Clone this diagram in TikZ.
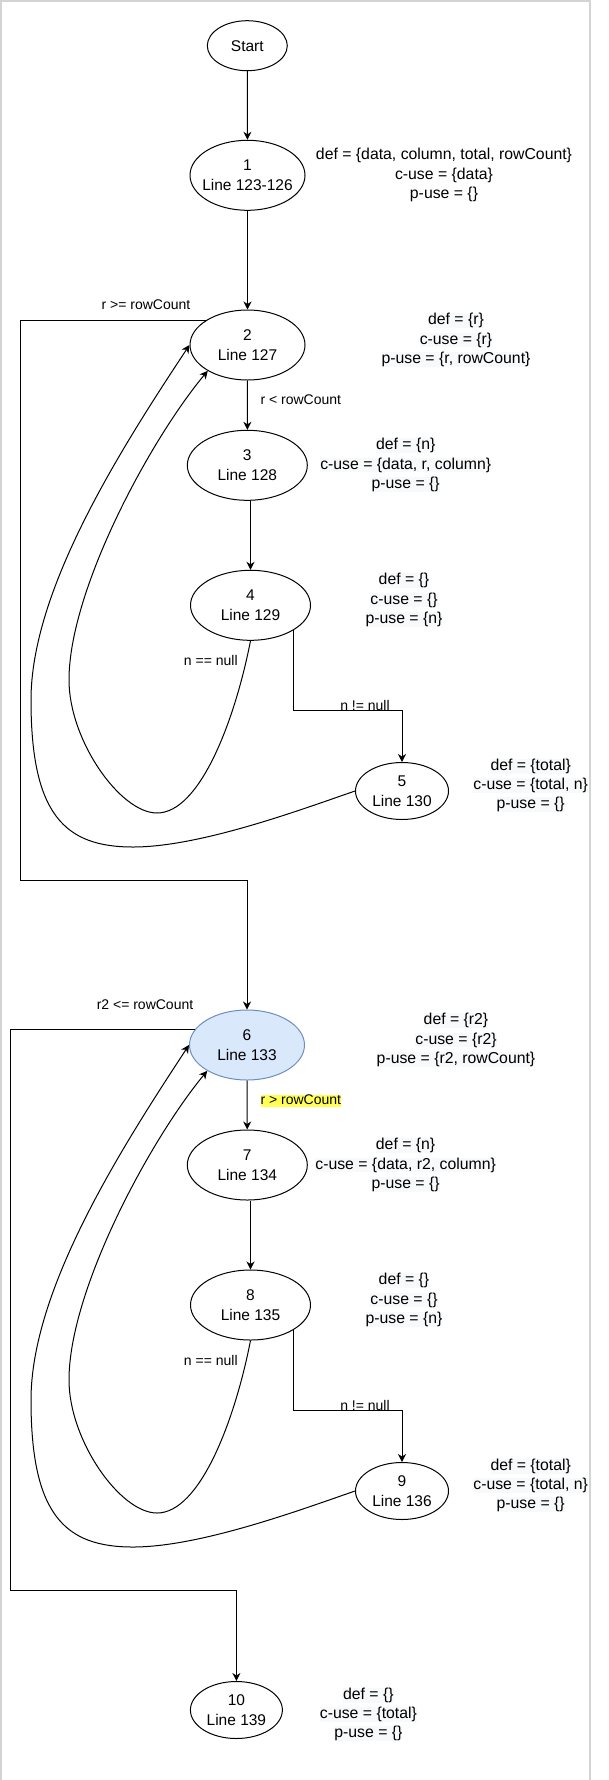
\documentclass[tikz,border=0pt]{standalone}
\usepackage{fontspec}
\setmainfont{Liberation Sans}
\usetikzlibrary{shapes.geometric,arrows.meta}
\definecolor{softbg}{HTML}{F8F9FA}
\definecolor{nodeblue}{HTML}{DAE8FC}
\definecolor{edgeblue}{HTML}{6C8EBF}
\definecolor{marker}{HTML}{FFFF55}
\definecolor{frame}{HTML}{D4D4D4}
\newcommand{\bgl}[1]{{\setlength{\fboxsep}{0pt}\colorbox{softbg}{#1}}}

\begin{document}
\begin{tikzpicture}[x=1pt,y=-1pt,line width=1pt,
		blk/.style={ellipse,draw,inner sep=0pt,minimum width=115,minimum height=70},
		nlab/.style={align=center,font=\fontsize{15.5}{19.5}\selectfont},
		info/.style={align=center,inner sep=0pt,font=\fontsize{15.8}{19.3}\selectfont},
		cond/.style={inner sep=0pt,font=\fontsize{14}{16}\selectfont},
		arr/.style={-{Stealth[length=8pt,width=8pt,inset=2.5pt]}}]
		\useasboundingbox (0,0) rectangle (609,1780);
		\draw[frame,line width=1.5pt] (0.75,1780) -- (0.75,0.75) -- (590,0.75) -- (590,1780);

		\node[blk,minimum width=80,minimum height=50,label={[nlab]center:Start}] (s) at (247.3,45.7) {};
		\node[blk,label={[nlab]center:1\\Line 123-126}] (n1) at (247.5,175.3) {};
		\node[blk,label={[nlab]center:2\\Line 127}] (n2) at (247.5,345) {};
		\node[blk,minimum width=120,label={[nlab]center:3\\Line 128}] (n3) at (247.3,465.3) {};
		\node[blk,minimum width=120,label={[nlab]center:4\\Line 129}] (n4) at (250.5,605.3) {};
		\node[blk,minimum width=93,minimum height=57,label={[nlab]center:5\\Line 130}] (n5) at (402,791) {};
		\node[blk,fill=nodeblue,draw=edgeblue,label={[nlab]center:6\\Line 133}] (n6) at (247,1045) {};
		\node[blk,minimum width=120,label={[nlab]center:7\\Line 134}] (n7) at (247.3,1165) {};
		\node[blk,minimum width=120,label={[nlab]center:8\\Line 135}] (n8) at (250.5,1305) {};
		\node[blk,minimum width=93,minimum height=57,label={[nlab]center:9\\Line 136}] (n9) at (402,1491) {};
		\node[blk,minimum width=92,minimum height=57,label={[nlab]center:10\\Line 139}] (n10) at (236.4,1710) {};

		\node[info] (t1) at (444,175) {def = \{data, column, total, rowCount\}\\c-use = \{data\}\\p-use = \{\}};
		\node[info] (t2) at (456,340) {\bgl{def = \{r\}}\\\bgl{c-use = \{r\}}\\\bgl{p-use = \{r, rowCount\}}};
		\node[info] (t3) at (405.7,465) {\bgl{def = \{n\}}\\\bgl{c-use = \{data, r, column\}}\\\bgl{p-use = \{\}}};
		\node[info] (t4) at (404,600) {\bgl{def = \{\}}\\\bgl{c-use = \{\}}\\\bgl{p-use = \{n\}}};
		\node[info] (t5) at (530.7,785.5) {\bgl{def = \{total\}}\\\bgl{c-use = \{total, n\}}\\\bgl{p-use = \{\}}};
		\node[info] (t6) at (456,1040) {\bgl{def = \{r2\}}\\\bgl{c-use = \{r2\}}\\\bgl{p-use = \{r2, rowCount\}}};
		\node[info] (t7) at (405.6,1165) {\bgl{def = \{n\}}\\\bgl{c-use = \{data, r2, column\}}\\\bgl{p-use = \{\}}};
		\node[info] (t8) at (404,1300) {\bgl{def = \{\}}\\\bgl{c-use = \{\}}\\\bgl{p-use = \{n\}}};
		\node[info] (t9) at (530.7,1485.5) {\bgl{def = \{total\}}\\\bgl{c-use = \{total, n\}}\\\bgl{p-use = \{\}}};
		\node[info] (t10) at (368.4,1714.5) {\bgl{def = \{\}}\\\bgl{c-use = \{total\}}\\\bgl{p-use = \{\}}};

		\node[cond] (c1) at (146,305) {r >= rowCount};
		\node[cond,anchor=west] (c2) at (260,400) {r < rowCount};
		\node[cond] (c3) at (210.8,660) {n == null};
		\node[cond,anchor=base] (c4) at (365,710) {n != null};
		\node[cond] (c5) at (145,1005) {r2 <= rowCount};
		\node[cond,anchor=west,fill=marker,text height=10pt,text depth=2.7pt] (c6) at (260,1101) {r > rowCount};
		\node[cond] (c7) at (210.8,1360) {n == null};
		\node[cond,anchor=base] (c8) at (365,1410) {n != null};

		\coordinate (k2) at (20,880);
		\coordinate (k4) at (402,710);
		\coordinate (k6) at (10.5,1590);
		\coordinate (k8) at (402,1410);

		\draw[arr] (s) -- (n1);
		\draw[arr] (n1) -- (n2);
		\draw[arr] (n2) -- (n3);
		\draw[arr] (n4 |- n3.south) -- (n4);
		\draw[arr] (n4.-30) |- (k4) -- (n5);
		\draw[arr] (n4.south) .. controls (235,720) and (200,813) .. (157,813)
			.. controls (120,813) and (69,740) .. (69,680)
			.. controls (69,590) and (150,440) .. (n2.213);
		\draw[arr] (n5.west) .. controls (300,810) and (200,847) .. (133,847)
			.. controls (65,847) and (31,815) .. (31,700)
			.. controls (31,590) and (120,450) .. (n2.west);
		\draw[arr] (n2.149.5) -| (k2) -| (n6);

		\draw[arr] (n6) -- (n7);
		\draw[arr] (n8 |- n7.south) -- (n8);
		\draw[arr] (n8.-30) |- (k8) -- (n9);
		\draw[arr] (n8.south) .. controls (235,1420) and (200,1513) .. (157,1513)
			.. controls (120,1513) and (69,1440) .. (69,1380)
			.. controls (69,1290) and (150,1140) .. (n6.213);
		\draw[arr] (n9.west) .. controls (300,1510) and (200,1547) .. (133,1547)
			.. controls (65,1547) and (31,1515) .. (31,1400)
			.. controls (31,1290) and (120,1150) .. (n6.west);
		\draw[arr] (n6.163.8) -| (k6) -| (n10);
	\end{tikzpicture}
\end{document}
